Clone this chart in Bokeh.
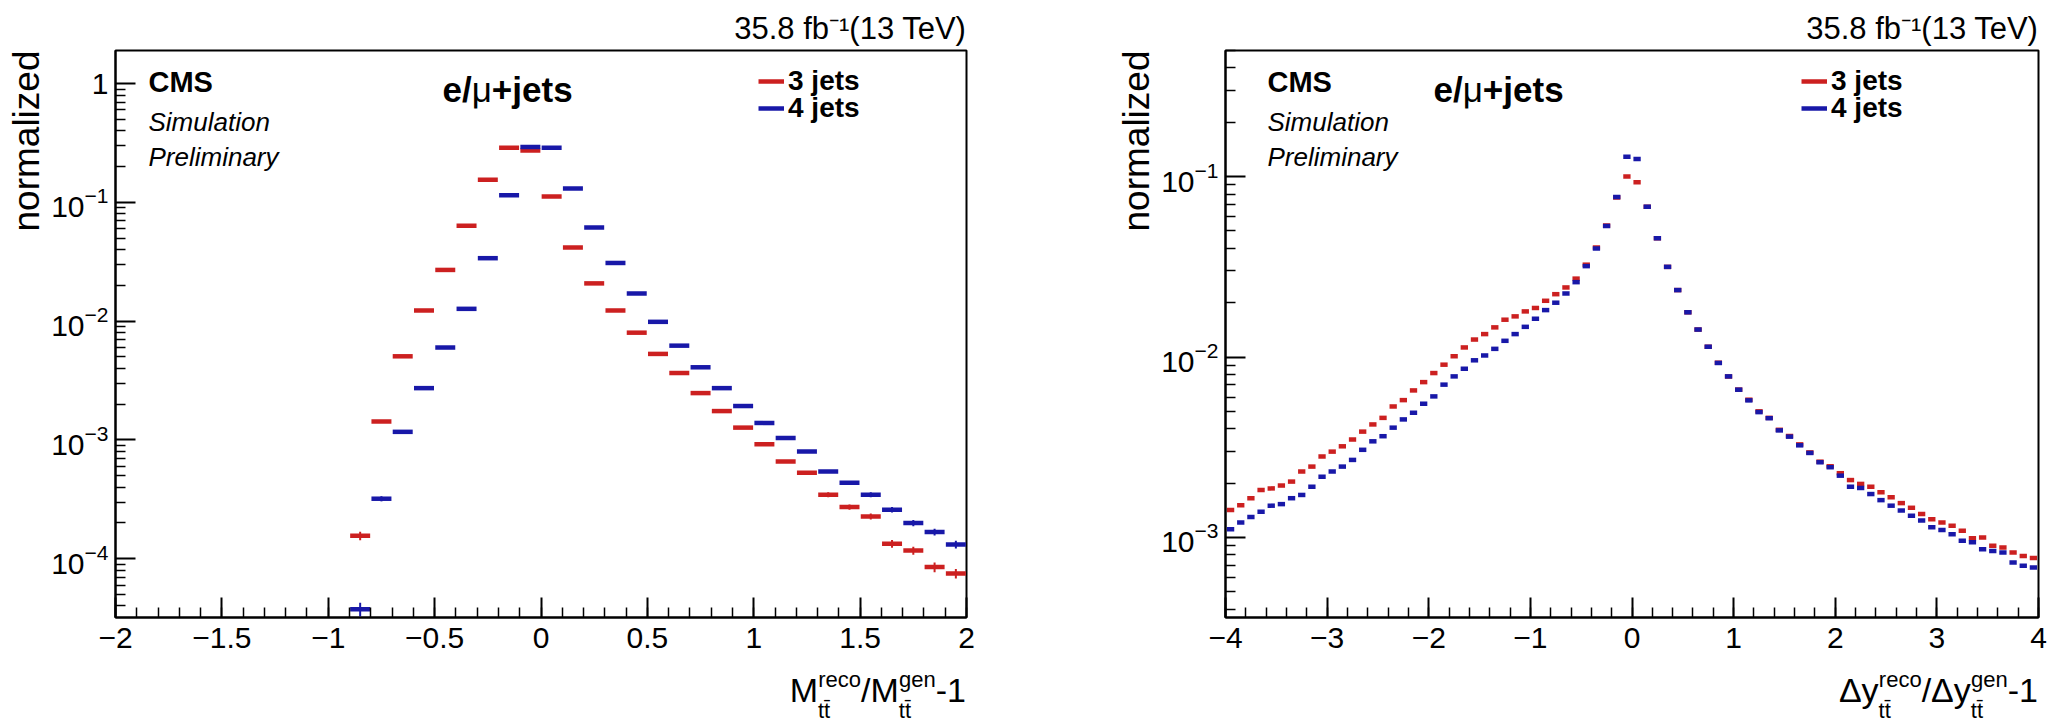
import numpy as np
from bokeh.plotting import figure
from bokeh.layouts import row, column
from bokeh.models import (ColumnDataSource, FixedTicker, CustomJSTickFormatter, LogTickFormatter,
                          Label, Legend, LegendItem, Range1d, Title, Div)
from bokeh.embed import file_html
from bokeh.resources import INLINE

FONT = "Liberation Sans"
RED = "#cc2020"
BLUE = "#1818a8"

# ---------------- data ----------------
# M_tt resolution: bins of width 0.1, centres -0.85 ... 1.95
mtt_centers = np.round(np.arange(-0.85, 2.0, 0.1), 2)
mtt_3jets = [1.56e-4, 1.43e-3, 5.06e-3, 1.23e-2, 2.70e-2, 6.35e-2, 0.155, 0.288, 0.273,
             0.112, 0.0417, 0.0208, 0.0123, 0.0080, 0.0053, 0.00366, 0.00248, 0.00175, 0.00127,
             0.00092, 0.00066, 0.00053, 0.000346, 0.000272, 0.000227, 0.000134, 0.000117, 8.5e-5, 7.5e-5]
mtt_4jets = [3.76e-5, 3.2e-4, 1.17e-3, 2.73e-3, 6.0e-3, 1.27e-2, 3.39e-2, 0.115, 0.292,
             0.288, 0.131, 0.0615, 0.0309, 0.0171, 0.00987, 0.00622, 0.00409, 0.00273, 0.00193,
             0.00139, 0.00104, 0.00080, 0.000543, 0.000436, 0.000346, 0.000259, 0.000200, 0.000168, 0.000132]
mtt_3jets_err = [1.3e-5, 0, 0, 0, 0, 0, 0, 0, 0,
                 0, 0, 0, 0, 0, 0, 0, 0, 0, 0,
                 0, 0, 0, 1.6e-5, 1.4e-5, 1.3e-5, 1.0e-5, 9e-6, 8e-6, 7e-6]
mtt_4jets_err = [5e-6, 1.6e-5, 0, 0, 0, 0, 0, 0, 0,
                 0, 0, 0, 0, 0, 0, 0, 0, 0, 0,
                 0, 0, 0, 0, 0, 1.7e-5, 1.4e-5, 1.2e-5, 1.1e-5, 1.0e-5]

# Delta y resolution: bins of width 0.1, centres -3.95 ... 3.95
dy_centers = np.round(np.arange(-3.95, 4.0, 0.1), 2)
dy_3jets = [1.42e-3, 1.51e-3, 1.65e-3, 1.83e-3, 1.87e-3, 1.94e-3, 2.04e-3, 2.32e-3, 2.47e-3, 2.81e-3,
            2.99e-3, 3.20e-3, 3.49e-3, 3.86e-3, 4.23e-3, 4.60e-3, 5.32e-3, 5.77e-3, 6.53e-3, 7.26e-3,
            8.15e-3, 9.07e-3, 1.01e-2, 1.13e-2, 1.25e-2, 1.34e-2, 1.46e-2, 1.61e-2, 1.68e-2, 1.79e-2,
            1.87e-2, 2.05e-2, 2.23e-2, 2.43e-2, 2.72e-2, 3.25e-2, 4.05e-2, 5.35e-2, 7.65e-2, 0.100,
            0.093, 0.068, 0.0455, 0.0316, 0.0235, 0.0177, 0.0142, 0.0114, 9.3e-3, 7.8e-3,
            6.6e-3, 5.8e-3, 5.0e-3, 4.6e-3, 3.95e-3, 3.65e-3, 3.28e-3, 2.96e-3, 2.63e-3, 2.48e-3,
            2.27e-3, 2.08e-3, 1.98e-3, 1.91e-3, 1.78e-3, 1.67e-3, 1.55e-3, 1.46e-3, 1.35e-3, 1.26e-3,
            1.21e-3, 1.16e-3, 1.09e-3, 9.9e-4, 1.0e-3, 9.0e-4, 8.8e-4, 8.26e-4, 7.9e-4, 7.7e-4]
dy_4jets = [1.11e-3, 1.21e-3, 1.30e-3, 1.39e-3, 1.50e-3, 1.53e-3, 1.65e-3, 1.72e-3, 1.91e-3, 2.17e-3,
            2.32e-3, 2.47e-3, 2.69e-3, 3.06e-3, 3.41e-3, 3.64e-3, 4.06e-3, 4.51e-3, 4.91e-3, 5.51e-3,
            6.05e-3, 7.03e-3, 7.81e-3, 8.61e-3, 9.59e-3, 1.02e-2, 1.11e-2, 1.23e-2, 1.34e-2, 1.47e-2,
            1.63e-2, 1.82e-2, 2.00e-2, 2.25e-2, 2.60e-2, 3.19e-2, 4.00e-2, 5.32e-2, 7.7e-2, 0.129,
            0.125, 0.068, 0.0455, 0.0316, 0.0235, 0.0177, 0.0142, 0.0114, 9.27e-3, 7.81e-3,
            6.59e-3, 5.75e-3, 4.95e-3, 4.58e-3, 3.92e-3, 3.62e-3, 3.24e-3, 2.94e-3, 2.61e-3, 2.45e-3,
            2.20e-3, 1.91e-3, 1.88e-3, 1.74e-3, 1.61e-3, 1.50e-3, 1.41e-3, 1.32e-3, 1.24e-3, 1.14e-3,
            1.10e-3, 1.04e-3, 9.6e-4, 9.4e-4, 8.6e-4, 8.4e-4, 8.26e-4, 7.27e-4, 6.96e-4, 6.82e-4]

series_labels = ["3 jets", "4 jets"]
mtt_xticks = [-2, -1.5, -1, -0.5, 0, 0.5, 1, 1.5, 2]
dy_xticks = [-4, -3, -2, -1, 0, 1, 2, 3, 4]
lumi_text = "35.8 fb\u207b\u00b9(13 TeV)"
ylabel_text = "normalized"

BOLD_W = {'e': 556, '/': 278, '+': 584, 'j': 278, 't': 333, 's': 556}


def bold_width(s, size):
    return sum(BOLD_W.get(ch, 556) for ch in s) / 1000.0 * size


def put(p, x, y, text, size, style="normal"):
    p.add_layout(Label(x=x, y=y, x_units="screen", y_units="screen", text=text,
                       text_font=FONT, text_font_size=f"{size}px", text_font_style=style,
                       text_align="left", text_baseline="middle", text_color="black"))


def axis_title_div(width, right_pad, parts):
    """HTML axis title with stacked super/subscripts, right aligned under the frame."""
    html = []
    for part in parts:
        if isinstance(part, str):
            html.append(part)
        else:
            sup, sub = part
            html.append(f'<span style="position:relative;top:16px;font-size:22px;">{sub}</span>'
                        f'<span style="position:relative;top:-15px;font-size:22px;'
                        f'margin-left:-12px;">{sup}</span>')
    inner = "".join(html)
    text = (f'<div style="position:relative;width:{width}px;height:58px;'
            f'font-family:\'{FONT}\',Arial,sans-serif;color:#000;">'
            f'<div style="position:absolute;right:{right_pad}px;top:6px;font-size:34px;'
            f'line-height:34px;white-space:nowrap;">{inner}</div></div>')
    return Div(text=text, width=width, height=58, margin=0)


def panel(x_range, y_range, left_border, frame_w, right_border, centers, values, errs,
          half_w, xticks, xminor, kmin, kmax, pos):
    H = 567
    p = figure(x_range=Range1d(*x_range), y_range=Range1d(*y_range), y_axis_type="log",
               frame_width=frame_w, frame_height=H,
               min_border_left=left_border, min_border_right=right_border,
               min_border_top=50, min_border_bottom=50,
               output_backend="svg", toolbar_location=None)
    p.xgrid.visible = False
    p.ygrid.visible = False
    p.outline_line_color = "black"
    p.outline_line_width = 2
    p.background_fill_color = "white"
    p.border_fill_color = "white"

    xa = p.xaxis[0]
    xa.ticker = FixedTicker(ticks=xticks, minor_ticks=xminor)
    xa.formatter = CustomJSTickFormatter(
        code="return (tick < 0 ? '\u2212' : '') + Math.abs(tick).toString();")
    xa.major_label_standoff = 10
    ya = p.yaxis[0]
    lo, hi = y_range
    ymin_t = []
    for k in range(-6, 2):
        for m in range(2, 10):
            v = m * 10.0 ** k
            if lo <= v <= hi:
                ymin_t.append(v)
    ya.ticker = FixedTicker(ticks=[10.0 ** k for k in range(kmin, kmax + 1)], minor_ticks=ymin_t)
    ya.formatter = LogTickFormatter()
    if kmax == 0:
        ya.major_label_overrides = {1: "1"}
    ya.major_label_standoff = 7
    for ax in (xa, ya):
        ax.major_label_text_font = FONT
        ax.major_label_text_font_size = "30px"
        ax.major_label_text_color = "black"
        ax.axis_line_color = "black"
        ax.axis_line_width = 2
        ax.major_tick_in = 20
        ax.major_tick_out = 0
        ax.minor_tick_in = 10
        ax.minor_tick_out = 0
        ax.major_tick_line_width = 2
        ax.minor_tick_line_width = 1.5
        ax.major_tick_line_color = "black"
        ax.minor_tick_line_color = "black"

    renderers = []
    for vals, err, col in zip(values, errs, [RED, BLUE]):
        c = np.asarray(centers, dtype=float)
        v = np.asarray(vals, dtype=float)
        src = ColumnDataSource(dict(x0=c - half_w, x1=c + half_w, y=v))
        r = p.segment(x0="x0", y0="y", x1="x1", y1="y", source=src,
                      line_color=col, line_width=4.5)
        renderers.append(r)
        if err is not None:
            e = np.asarray(err, dtype=float)
            keep = e > 0
            esrc = ColumnDataSource(dict(x=c[keep], lo=(v - e)[keep], hi=(v + e)[keep]))
            p.segment(x0="x", y0="lo", x1="x", y1="hi", source=esrc,
                      line_color=col, line_width=2)

    # legend, one entry per row
    for i, (r, lab) in enumerate(zip(renderers, series_labels)):
        leg = Legend(items=[LegendItem(label=lab, renderers=[r])],
                     location=(pos["leg_x"], pos["leg_y"] - 27 * i),
                     border_line_alpha=0, background_fill_alpha=0, padding=0, margin=0,
                     glyph_width=26, glyph_height=20, label_standoff=4, spacing=0,
                     label_text_font=FONT, label_text_font_size="28px",
                     label_text_font_style="bold", label_text_color="black")
        p.add_layout(leg)

    # texts inside the frame
    put(p, pos["cms_x"], H - 31, "CMS", 29, style="bold")
    put(p, pos["cms_x"], H - 71, "Simulation", 26, style="italic")
    put(p, pos["cms_x"], H - 106, "Preliminary", 26, style="italic")
    x = pos["chan_x"]
    for t, style in [("e/", "bold"), ("\u03bc", "normal"), ("+jets", "bold")]:
        put(p, x, H - 39, t, 35, style=style)
        x += bold_width(t, 35) if style == "bold" else 0.576 * 35

    # y axis title (top aligned) and luminosity label
    p.add_layout(Title(text=ylabel_text, align="right", text_font=FONT, text_font_size="37px",
                       text_font_style="normal", text_color="black", standoff=3), "left")
    p.add_layout(Title(text=lumi_text, align="right", text_font=FONT, text_font_size="31px",
                       text_font_style="normal", text_color="black", standoff=9), "above")
    return p


TTBAR = "tt&#772;"
p1 = panel((-2, 2), (3.2e-5, 1.9), 115, 851, 63, mtt_centers,
           [mtt_3jets, mtt_4jets], [mtt_3jets_err, mtt_4jets_err], 0.047,
           mtt_xticks, list(np.round(np.arange(-2, 2.001, 0.1), 1)), -4, 0,
           dict(leg_x=643, leg_y=520, cms_x=33, chan_x=327))
p2 = panel((-4, 4), (3.6e-4, 0.5), 196, 813, 20, dy_centers,
           [dy_3jets, dy_4jets], [None, None], 0.036,
           dy_xticks, list(np.round(np.arange(-4, 4.001, 0.2), 1)), -3, -1,
           dict(leg_x=576, leg_y=520, cms_x=42, chan_x=208))

t1 = axis_title_div(1029, 63, ["M", ("reco", TTBAR), "/M", ("gen", TTBAR), "-1"])
t2 = axis_title_div(1029, 20, ["&Delta;y", ("reco", TTBAR), "/&Delta;y", ("gen", TTBAR), "-1"])

layout = row(column(p1, t1), column(p2, t2))
open("out.html", "w").write(file_html(layout, INLINE))
